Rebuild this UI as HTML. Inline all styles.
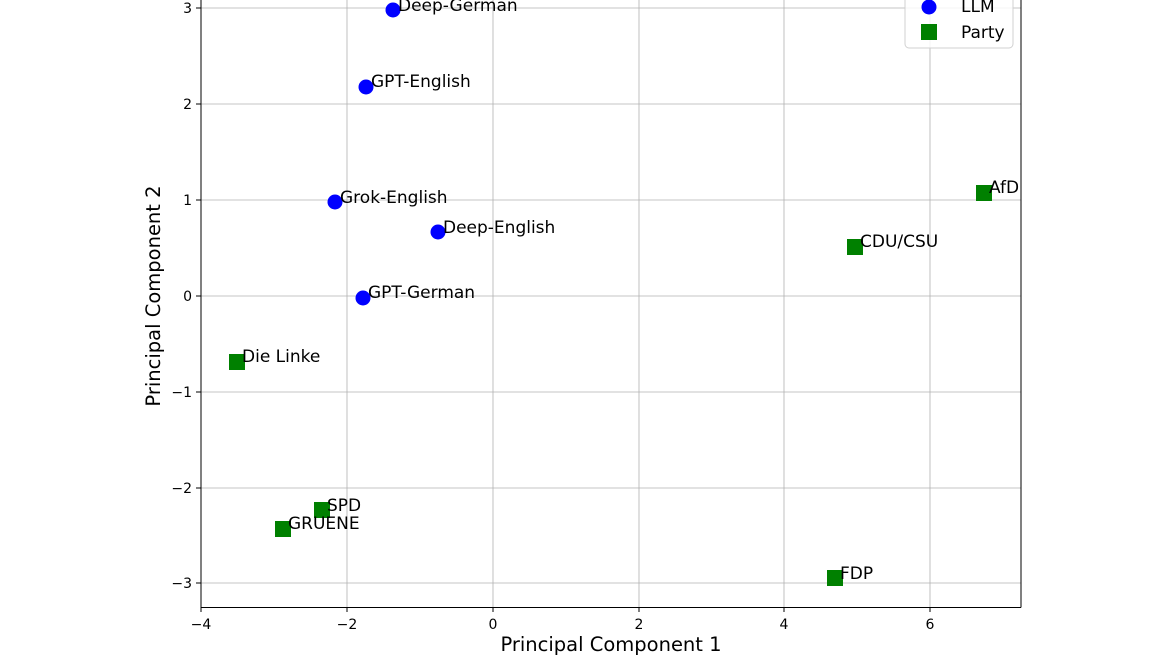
<!DOCTYPE html>
<html><head><meta charset="utf-8"><style>
html,body{margin:0;padding:0;background:#fff}
svg{display:block;font-family:"DejaVu Sans","Liberation Sans",sans-serif}
</style></head><body>
<svg width="1170" height="658" viewBox="0 0 1170 658" xmlns="http://www.w3.org/2000/svg">
<rect width="1170" height="658" fill="#fff"/>
<g stroke="#b0b0b0" stroke-width="0.8">
<line x1="201" y1="-10" x2="201" y2="607"/>
<line x1="347" y1="-10" x2="347" y2="607"/>
<line x1="493" y1="-10" x2="493" y2="607"/>
<line x1="639" y1="-10" x2="639" y2="607"/>
<line x1="784" y1="-10" x2="784" y2="607"/>
<line x1="930" y1="-10" x2="930" y2="607"/>
<line x1="201" y1="8" x2="1021" y2="8"/>
<line x1="201" y1="104" x2="1021" y2="104"/>
<line x1="201" y1="200" x2="1021" y2="200"/>
<line x1="201" y1="296" x2="1021" y2="296"/>
<line x1="201" y1="392" x2="1021" y2="392"/>
<line x1="201" y1="488" x2="1021" y2="488"/>
<line x1="201" y1="583" x2="1021" y2="583"/>
</g>
<g stroke="#000" stroke-width="1" fill="none">
<line x1="201" y1="-10" x2="201" y2="607.5"/>
<line x1="1021" y1="-10" x2="1021" y2="607.5"/>
<line x1="201" y1="607.5" x2="1021" y2="607.5"/>
<line x1="201" y1="607" x2="201" y2="612"/><line x1="347" y1="607" x2="347" y2="612"/><line x1="493" y1="607" x2="493" y2="612"/><line x1="639" y1="607" x2="639" y2="612"/><line x1="784" y1="607" x2="784" y2="612"/><line x1="930" y1="607" x2="930" y2="612"/>
<line x1="196" y1="8" x2="201" y2="8"/><line x1="196" y1="104" x2="201" y2="104"/><line x1="196" y1="200" x2="201" y2="200"/><line x1="196" y1="296" x2="201" y2="296"/><line x1="196" y1="392" x2="201" y2="392"/><line x1="196" y1="488" x2="201" y2="488"/><line x1="196" y1="583" x2="201" y2="583"/>
</g>
<g font-size="14" fill="#000" text-anchor="middle">
<text x="201" y="629">−4</text><text x="347" y="629">−2</text><text x="493" y="629">0</text><text x="639" y="629">2</text><text x="784" y="629">4</text><text x="930" y="629">6</text>
</g>
<g font-size="14" fill="#000" text-anchor="end">
<text x="192" y="13">3</text><text x="192" y="109">2</text><text x="192" y="205">1</text><text x="192" y="301">0</text><text x="192" y="397">−1</text><text x="192" y="493">−2</text><text x="192" y="588">−3</text>
</g>
<text x="611" y="651" font-size="19.5" text-anchor="middle">Principal Component 1</text>
<text x="160" y="296" font-size="19.5" text-anchor="middle" transform="rotate(-90 160 296)">Principal Component 2</text>
<g fill="#0000ff">
<circle cx="393" cy="10" r="7.5"/><circle cx="366" cy="87" r="7.5"/><circle cx="335" cy="202" r="7.5"/><circle cx="438" cy="232" r="7.5"/><circle cx="363" cy="298" r="7.5"/>
</g>
<g fill="#008000">
<rect x="229" y="354" width="16" height="16"/><rect x="314" y="502" width="16" height="16"/><rect x="275" y="521" width="16" height="16"/><rect x="827" y="570" width="16" height="16"/><rect x="847" y="239" width="16" height="16"/><rect x="976" y="185" width="16" height="16"/>
</g>
<g font-size="17" fill="#000">
<text x="398" y="11">Deep-German</text>
<text x="371" y="87">GPT-English</text>
<text x="340" y="203">Grok-English</text>
<text x="443" y="233">Deep-English</text>
<text x="368" y="298">GPT-German</text>
<text x="242" y="362">Die Linke</text>
<text x="327" y="511">SPD</text>
<text x="288" y="529">GRUENE</text>
<text x="840" y="579">FDP</text>
<text x="860" y="247">CDU/CSU</text>
<text x="989" y="193">AfD</text>
</g>
<rect x="905" y="-20" width="108" height="68" rx="4" fill="#fff" fill-opacity="0.85" stroke="#d0d0d0"/>
<circle cx="929" cy="7" r="7.5" fill="#0000ff"/>
<rect x="921" y="24" width="16" height="16" fill="#008000"/>
<text x="961" y="12" font-size="17">LLM</text>
<text x="961" y="38" font-size="17">Party</text>
</svg>
</body></html>
